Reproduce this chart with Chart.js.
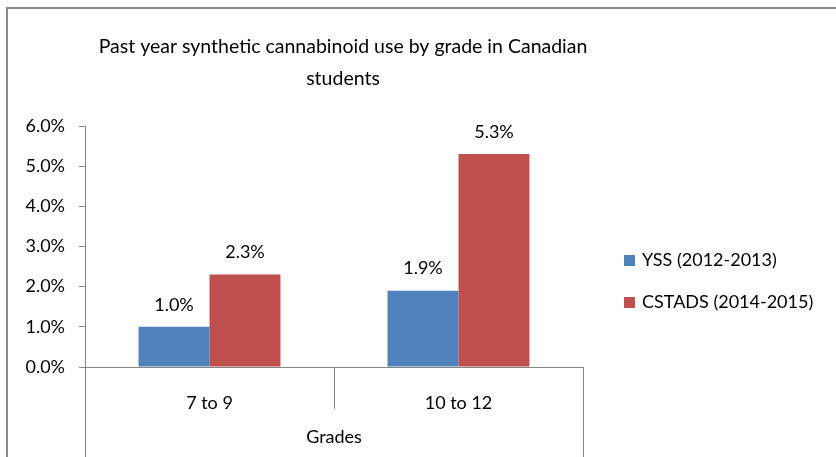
<!DOCTYPE html>
<html>
<head>
<meta charset="utf-8">
<title>Synthetic cannabinoid use by grade</title>
<script src="https://cdn.jsdelivr.net/npm/chart.js@4.4.1/dist/chart.umd.min.js"></script>
<style>
  html, body { margin: 0; padding: 0; background: #fff; }
</style>
</head>
<body>
<canvas id="myChart" width="836" height="457"></canvas>
<script>
// chart data
const titleLines = ["Past year synthetic cannabinoid use by grade in Canadian", "students"];
const grades = ["7 to 9", "10 to 12"];
const seriesNames = ["YSS (2012-2013)", "CSTADS (2014-2015)"];
const yss = [1.0, 1.9];
const cstads = [2.3, 5.3];
const yTicks = [0, 1, 2, 3, 4, 5, 6];
const xTitle = "Grades";

const seriesColors = ["#4F81BD", "#C0504D"];
const FONT = "Lato, 'Open Sans', sans-serif";
const AXIS = "#868686";

const pct = v => v.toFixed(1) + "%";

// outer frame of the chart box (only top and left edges are inside the canvas)
const framePlugin = {
  id: "frame",
  beforeDraw(chart) {
    const ctx = chart.ctx;
    ctx.save();
    ctx.fillStyle = "#fff";
    ctx.fillRect(0, 0, chart.width, chart.height);
    ctx.strokeStyle = "#8a8a8a";
    ctx.lineWidth = 2;
    ctx.beginPath();
    ctx.moveTo(7, chart.height);
    ctx.lineTo(7, 8);
    ctx.lineTo(chart.width, 8);
    ctx.stroke();
    ctx.restore();
  }
};

// two-line title, centred a bit right of the plot centre
const titlePlugin = {
  id: "chartTitle",
  afterDraw(chart) {
    const ctx = chart.ctx;
    const cx = (chart.chartArea.left + chart.chartArea.right) / 2 + 9;
    ctx.save();
    ctx.font = "19.5px " + FONT;
    ctx.fillStyle = "#000";
    ctx.textAlign = "center";
    ctx.textBaseline = "middle";
    titleLines.forEach((line, i) => ctx.fillText(line, cx, 47 + i * 32));
    ctx.restore();
  }
};

// value labels above each bar
const valueLabels = {
  id: "valueLabels",
  afterDatasetsDraw(chart) {
    const ctx = chart.ctx;
    ctx.save();
    ctx.font = "18px " + FONT;
    ctx.fillStyle = "#000";
    ctx.textAlign = "center";
    ctx.textBaseline = "middle";
    chart.data.datasets.forEach((ds, i) => {
      chart.getDatasetMeta(i).data.forEach((bar, j) => {
        ctx.fillText(pct(ds.data[j]), bar.x, bar.y - 22);
      });
    });
    ctx.restore();
  }
};

// category divider ticks; the outer ones run down to the frame bottom
const dividers = {
  id: "dividers",
  afterDraw(chart) {
    const ctx = chart.ctx;
    const x = chart.scales.x;
    const n = chart.data.labels.length;
    const bottom = chart.chartArea.bottom;
    ctx.save();
    ctx.strokeStyle = AXIS;
    ctx.lineWidth = 1;
    for (let i = 0; i <= n; i++) {
      const px = Math.round(x.getPixelForValue(i - 0.5)) + 0.5;
      const end = (i === 0 || i === n) ? chart.height : bottom + 42;
      ctx.beginPath();
      ctx.moveTo(px, bottom);
      ctx.lineTo(px, end);
      ctx.stroke();
    }
    ctx.restore();
  }
};

// legend on the right
const sideLegend = {
  id: "sideLegend",
  afterDraw(chart) {
    const ctx = chart.ctx;
    const left = chart.chartArea.right + 41;
    ctx.save();
    ctx.font = "18px " + FONT;
    ctx.textBaseline = "middle";
    ctx.textAlign = "left";
    chart.data.datasets.forEach((ds, i) => {
      const cy = 260 + i * 42;
      ctx.fillStyle = ds.backgroundColor;
      ctx.fillRect(left, cy - 5, 11, 11);
      ctx.fillStyle = "#000";
      ctx.fillText(ds.label, left + 18, cy);
    });
    ctx.restore();
  }
};

function draw() {
  const ctx = document.getElementById("myChart").getContext("2d");
  new Chart(ctx, {
    type: "bar",
    data: {
      labels: grades,
      datasets: [
        { label: seriesNames[0], data: yss, backgroundColor: seriesColors[0] },
        { label: seriesNames[1], data: cstads, backgroundColor: seriesColors[1] }
      ]
    },
    options: {
      responsive: false,
      animation: false,
      devicePixelRatio: 1,
      barPercentage: 1.0,
      categoryPercentage: 0.57,
      layout: { padding: { top: 126, right: 253, left: 10, bottom: 0 } },
      plugins: {
        legend: { display: false },
        title: { display: false },
        tooltip: { enabled: false }
      },
      scales: {
        x: {
          afterFit: s => { s.height = 90; },
          grid: { display: false },
          border: { display: true, color: AXIS, width: 1 },
          ticks: { color: "#000", font: { family: FONT, size: 18 }, padding: 17 },
          title: {
            display: true, text: xTitle, color: "#000",
            font: { family: FONT, size: 18 }, padding: { top: 20, bottom: 9 }
          }
        },
        y: {
          min: 0,
          max: 6,
          afterFit: s => { s.width = 75; },
          afterBuildTicks: s => { s.ticks = yTicks.map(v => ({ value: v })); },
          grid: { drawOnChartArea: false, color: AXIS, tickLength: 6 },
          border: { display: true, color: AXIS, width: 1 },
          ticks: { color: "#000", font: { family: FONT, size: 18 }, padding: 14, callback: v => pct(v) }
        }
      }
    },
    plugins: [framePlugin, titlePlugin, valueLabels, dividers, sideLegend]
  });
}

if (document.fonts && document.fonts.load) {
  document.fonts.load("18px Lato").then(draw, draw);
} else {
  draw();
}
</script>
</body>
</html>
